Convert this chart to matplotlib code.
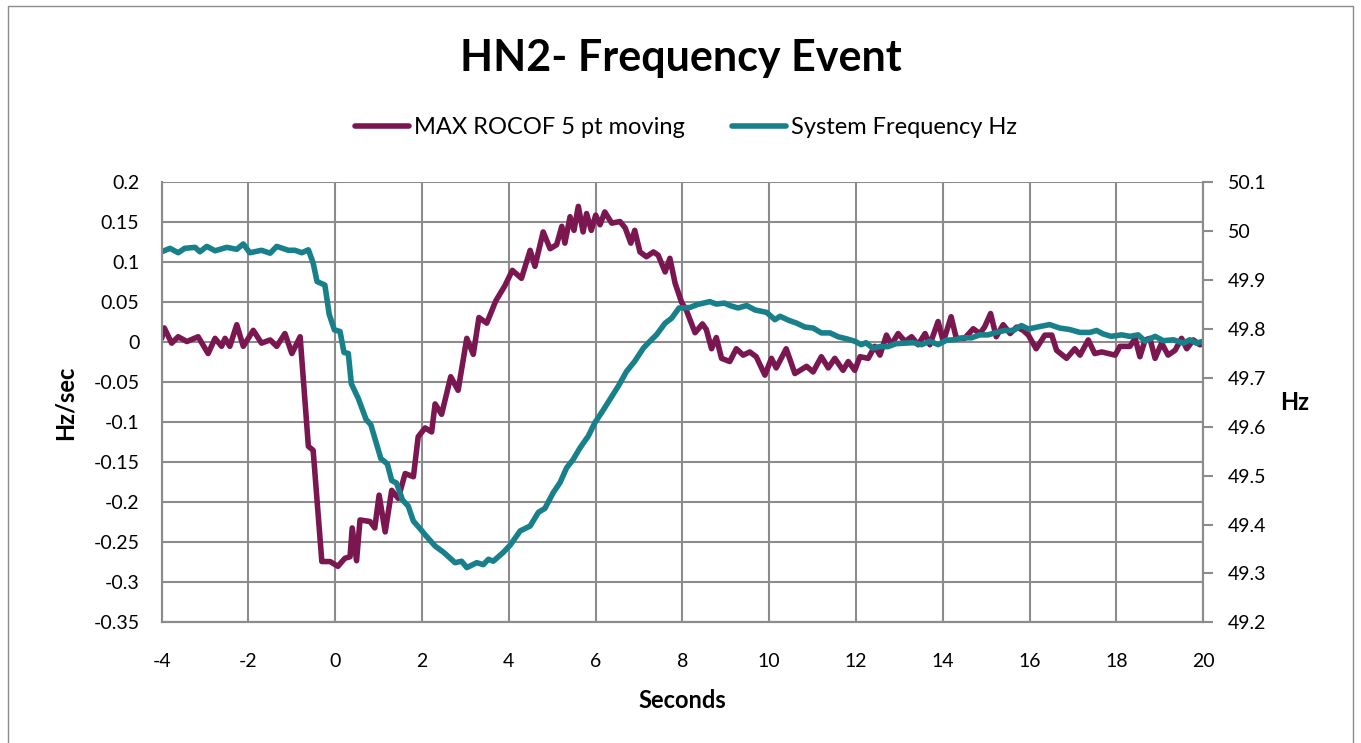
# -*- coding: utf-8 -*-
"""
Description: Plot of the HN2 frequency event - system frequency and the
             5 point moving MAX ROCOF on twin axes.
"""
# =============================     Import modules     =====================
import matplotlib
matplotlib.use('Agg')
import matplotlib.pyplot as plt
from matplotlib.patches import Rectangle
# ================   User settings  =========================================

# -- Time (s) and MAX ROCOF 5 pt moving (Hz/sec):
rocof_t = [
    -4.00, -3.94, -3.77, -3.62, -3.42, -3.16, -2.93, -2.77, -2.62, -2.54,
    -2.43, -2.27, -2.12, -1.89, -1.70, -1.50, -1.35, -1.16, -1.00, -0.81,
    -0.62, -0.51, -0.31, -0.12,  0.06,  0.22,  0.34,  0.39,  0.49,  0.57,
     0.80,  0.91,  1.01,  1.15,  1.30,  1.45,  1.61,  1.80,  1.91,  2.07,
     2.22,  2.30,  2.45,  2.66,  2.83,  3.03,  3.18,  3.31,  3.49,  3.70,
     3.91,  4.08,  4.29,  4.49,  4.60,  4.79,  4.95,  5.10,  5.22,  5.29,
     5.41,  5.50,  5.60,  5.71,  5.79,  5.90,  6.00,  6.10,  6.21,  6.37,
     6.56,  6.68,  6.81,  6.90,  7.02,  7.17,  7.33,  7.44,  7.60,  7.71,
     7.83,  7.98,  8.09,  8.29,  8.46,  8.55,  8.67,  8.78,  8.90,  9.09,
     9.24,  9.40,  9.55,  9.70,  9.90, 10.05, 10.16, 10.39, 10.59, 10.86,
    11.01, 11.20, 11.36, 11.51, 11.70, 11.82, 11.97, 12.09, 12.28, 12.43,
    12.55, 12.70, 12.81, 12.97, 13.13, 13.28, 13.43, 13.59, 13.70, 13.89,
    14.01, 14.19, 14.31, 14.50, 14.70, 14.85, 14.96, 15.10, 15.23, 15.39,
    15.55, 15.70, 15.85, 15.97, 16.15, 16.35, 16.51, 16.62, 16.85, 17.04,
    17.16, 17.35, 17.50, 17.66, 17.81, 17.97, 18.08, 18.31, 18.43, 18.54,
    18.66, 18.77, 18.89, 19.04, 19.19, 19.35, 19.50, 19.62, 19.77, 19.92,
    20.00,
]
rocof = [
     0.005,  0.018, -0.001,  0.007,  0.001,  0.007, -0.014,  0.005, -0.005,  0.005,
    -0.005,  0.022, -0.005,  0.015, -0.001,  0.003, -0.005,  0.011, -0.014,  0.007,
    -0.130, -0.135, -0.274, -0.274, -0.280, -0.270, -0.268, -0.232, -0.273, -0.222,
    -0.224, -0.232, -0.191, -0.237, -0.185, -0.195, -0.164, -0.168, -0.118, -0.107,
    -0.112, -0.077, -0.090, -0.043, -0.060,  0.005, -0.015,  0.031,  0.024,  0.052,
     0.071,  0.090,  0.080,  0.115,  0.095,  0.138,  0.117,  0.122,  0.145,  0.124,
     0.157,  0.140,  0.170,  0.138,  0.161,  0.140,  0.159,  0.147,  0.163,  0.149,
     0.151,  0.143,  0.124,  0.140,  0.113,  0.107,  0.113,  0.109,  0.088,  0.105,
     0.074,  0.050,  0.040,  0.012,  0.023,  0.016, -0.008,  0.006, -0.020, -0.024,
    -0.008, -0.016, -0.012, -0.018, -0.041, -0.020, -0.032, -0.008, -0.039, -0.030,
    -0.037, -0.018, -0.032, -0.020, -0.035, -0.024, -0.035, -0.018, -0.020, -0.005,
    -0.016,  0.009, -0.003,  0.011,  0.001,  0.007, -0.003,  0.011, -0.003,  0.026,
     0.001,  0.032,  0.005,  0.005,  0.017,  0.011,  0.019,  0.036,  0.007,  0.022,
     0.011,  0.019,  0.015,  0.009, -0.008,  0.009,  0.009, -0.010, -0.020, -0.008,
    -0.016,  0.003, -0.014, -0.012, -0.014, -0.016, -0.005, -0.005,  0.005, -0.018,
     0.003,  0.005, -0.020, -0.001, -0.016, -0.010,  0.005, -0.008,  0.003, -0.003,
    -0.002,
]

# -- Time (s) and system frequency (Hz):
freq_t = [
    -4.00, -3.81, -3.62, -3.47, -3.23, -3.12, -2.96, -2.77, -2.50, -2.27,
    -2.12, -1.97, -1.70, -1.50, -1.35, -1.08, -0.93, -0.77, -0.62, -0.51,
    -0.42, -0.24, -0.14, -0.02,  0.11,  0.20,  0.30,  0.37,  0.53,  0.71,
     0.82,  0.95,  1.05,  1.20,  1.30,  1.41,  1.55,  1.68,  1.80,  1.95,
     2.08,  2.30,  2.50,  2.76,  2.91,  3.03,  3.26,  3.41,  3.53,  3.64,
     3.87,  4.03,  4.26,  4.49,  4.68,  4.83,  5.02,  5.18,  5.33,  5.48,
     5.64,  5.83,  5.98,  6.18,  6.33,  6.52,  6.71,  6.90,  7.10,  7.25,
     7.40,  7.60,  7.75,  7.92,  8.17,  8.34,  8.48,  8.63,  8.78,  8.97,
     9.09,  9.28,  9.48,  9.67,  9.94, 10.13, 10.25, 10.44, 10.63, 10.82,
    11.01, 11.20, 11.40, 11.59, 11.78, 11.97, 12.12, 12.23, 12.38, 12.55,
    12.74, 12.92, 13.13, 13.32, 13.51, 13.70, 13.89, 14.08, 14.27, 14.47,
    14.66, 14.85, 15.04, 15.23, 15.43, 15.62, 15.81, 15.97, 16.12, 16.23,
    16.46, 16.69, 16.92, 17.16, 17.39, 17.54, 17.69, 17.88, 18.12, 18.31,
    18.50, 18.66, 18.89, 19.08, 19.31, 19.54, 19.69, 19.84, 20.00,
]
freq = [
    49.958, 49.965, 49.956, 49.965, 49.967, 49.958, 49.969, 49.960, 49.967, 49.963,
    49.974, 49.956, 49.961, 49.955, 49.969, 49.961, 49.961, 49.956, 49.962, 49.935,
    49.897, 49.890, 49.830, 49.798, 49.795, 49.752, 49.750, 49.688, 49.658, 49.615,
    49.604, 49.565, 49.535, 49.524, 49.490, 49.485, 49.450, 49.438, 49.407, 49.392,
    49.378, 49.356, 49.343, 49.322, 49.325, 49.312, 49.322, 49.318, 49.329, 49.325,
    49.343, 49.358, 49.387, 49.397, 49.425, 49.433, 49.465, 49.486, 49.516, 49.533,
    49.557, 49.581, 49.608, 49.635, 49.656, 49.683, 49.713, 49.734, 49.761, 49.775,
    49.788, 49.812, 49.822, 49.843, 49.844, 49.850, 49.853, 49.856, 49.851, 49.853,
    49.848, 49.843, 49.848, 49.839, 49.834, 49.819, 49.826, 49.818, 49.812, 49.804,
    49.802, 49.792, 49.792, 49.784, 49.780, 49.775, 49.768, 49.772, 49.761, 49.764,
    49.764, 49.770, 49.771, 49.772, 49.768, 49.775, 49.768, 49.777, 49.778, 49.782,
    49.782, 49.788, 49.788, 49.793, 49.797, 49.797, 49.807, 49.800, 49.803, 49.805,
    49.809, 49.802, 49.799, 49.793, 49.793, 49.797, 49.790, 49.785, 49.788, 49.785,
    49.788, 49.775, 49.785, 49.776, 49.778, 49.771, 49.778, 49.771, 49.775,
]

# -- Axis ticks:
x_ticks  = list(range(-4, 21, 2))
yl_ticks = [0.2, 0.15, 0.1, 0.05, 0, -0.05, -0.1, -0.15, -0.2, -0.25, -0.3, -0.35]
yl_labels = ['0.2', '0.15', '0.1', '0.05', '0', '-0.05', '-0.1', '-0.15',
             '-0.2', '-0.25', '-0.3', '-0.35']
yr_ticks = [50.1, 50.0, 49.9, 49.8, 49.7, 49.6, 49.5, 49.4, 49.3, 49.2]
yr_labels = ['50.1', '50', '49.9', '49.8', '49.7', '49.6', '49.5', '49.4',
             '49.3', '49.2']

# -- Plot settings:
c_rocof = '#7B1750'
c_freq  = '#17808A'
c_grid  = '#8C8C8C'
lw      = 4.0
fsize   = 14   # tick labels
lsize   = 17   # legend and axis titles

plt.rcParams['font.family'] = ['Lato', 'DejaVu Sans']

#=============================    Main program   ==============================
if __name__ == '__main__':
    fig = plt.figure(figsize=(13.61, 7.43), dpi=100)

    # Chart frame
    fig.patches.append(Rectangle((0.006, -0.1), 0.988, 1.092, transform=fig.transFigure,
                                 fill=False, edgecolor='#8C8C8C', lw=1.0))

    ax = fig.add_axes([0.1188, 0.1624, 0.7653, 0.5922])
    bx = ax.twinx()

    l1, = ax.plot(rocof_t, rocof, color=c_rocof, lw=lw, solid_joinstyle='round',
                  solid_capstyle='round', label='MAX ROCOF 5 pt moving')
    l2, = bx.plot(freq_t, freq, color=c_freq, lw=lw, solid_joinstyle='round',
                  solid_capstyle='round', label='System Frequency Hz')

    # Left axis
    ax.set_xlim(-4, 20)
    ax.set_ylim(-0.35, 0.2)
    ax.set_xticks(x_ticks)
    ax.set_xticklabels([str(x) for x in x_ticks])
    ax.set_yticks(yl_ticks)
    ax.set_yticklabels(yl_labels)
    ax.grid(True, color=c_grid, lw=1.5)
    ax.set_axisbelow(True)
    ax.tick_params(axis='x', length=0, labelsize=fsize, pad=22)
    ax.tick_params(axis='y', length=0, labelsize=fsize, pad=16)

    # Right axis
    bx.set_ylim(49.2, 50.1)
    bx.set_yticks(yr_ticks)
    bx.set_yticklabels(yr_labels)
    bx.tick_params(axis='y', length=7, width=1.5, color=c_grid,
                   labelsize=fsize, pad=11)

    for a in (ax, bx):
        for side in ('left', 'right', 'bottom'):
            a.spines[side].set_color(c_grid)
            a.spines[side].set_linewidth(1.5)
        a.spines['top'].set_visible(False)

    ax.set_xlabel('Seconds', fontsize=lsize, fontweight='bold', labelpad=14)
    ax.set_ylabel('Hz/sec', fontsize=lsize, fontweight='bold', labelpad=12)
    bx.set_ylabel('Hz', fontsize=lsize, fontweight='bold', rotation=0,
                  va='center', labelpad=20)

    fig.text(0.5, 0.922, 'HN2- Frequency Event', ha='center', va='center',
             fontsize=31, fontweight='bold')

    fig.legend(handles=[l1, l2], loc='center', bbox_to_anchor=(0.504, 0.828),
               ncol=2, frameon=False, fontsize=lsize, handlelength=2.3,
               handletextpad=0.2, columnspacing=2.0)

    plt.savefig('out.png', format='png', dpi=100)
    plt.close(fig)
# =============================    End of program   =======================
